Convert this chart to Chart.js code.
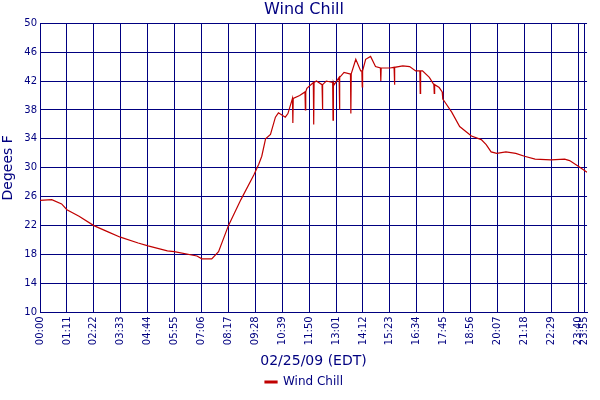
<!DOCTYPE html>
<html><head><script src="https://cdn.jsdelivr.net/npm/chart.js"></script>
<style>body{margin:0;background:#fff}</style></head>
<body><div style="width:600px;height:400px"><canvas id="c"></canvas></div>
<script>
const minutes=[0,31,57,71,103,142,181,212,259,285,336,354,414,427,453,471,497,530,564,577,585,595,608,621,629,647,654,666,667,668,685,699,700,701,704,721,722,723,729,744,745,746,755,772,773,774,776,789,790,791,802,817,819,820,821,833,846,849,850,851,859,872,885,898,899,900,901,923,934,935,936,957,975,991,1002,1003,1004,1009,1027,1039,1040,1041,1053,1061,1062,1063,1068,1086,1107,1138,1164,1177,1190,1205,1229,1255,1278,1306,1348,1384,1397,1420,1443];
const windChill=[25.5,25.6,25.0,24.2,23.3,22.0,21.1,20.4,19.6,19.2,18.5,18.4,17.8,17.4,17.4,18.4,22.0,25.6,29.0,30.5,31.6,34.0,34.6,37.0,37.6,37.0,37.5,39.6,36.2,39.6,40.0,40.5,38.0,40.5,41.0,41.8,36.0,41.8,42.0,41.5,38.0,41.5,42.0,41.8,36.6,41.8,41.5,42.5,38.0,42.5,43.2,43.0,43.0,37.5,43.0,45.0,43.4,43.4,41.2,43.4,45.0,45.4,44.0,43.8,42.0,43.8,43.8,43.8,43.9,41.5,43.9,44.1,44.0,43.4,43.4,40.3,43.4,43.4,42.5,41.5,40.3,41.5,41.1,40.5,40.0,39.5,39.1,37.7,35.7,34.4,33.9,33.2,32.2,32.0,32.2,32.0,31.6,31.2,31.1,31.2,31.0,30.2,29.4];
const tickMinutes=[0,71,142,213,284,355,426,497,568,639,710,781,852,923,994,1065,1136,1207,1278,1349,1420,1435];
const yTicks=[10,14,18,22,26,30,34,38,42,46,50];
const navy='#000080';
function lab(m){const h=Math.floor(m/60),mm=m%60;return String(h).padStart(2,'0')+':'+String(mm).padStart(2,'0');}
Chart.defaults.font.family='DejaVu Sans';
Chart.defaults.color=navy;
new Chart(document.getElementById('c'),{type:'line',
data:{datasets:[{label:'Wind Chill',data:minutes.map((m,i)=>({x:m,y:windChill[i]})),borderColor:'#c00000',backgroundColor:'#c00000',borderWidth:1.2,pointRadius:0,tension:0}]},
options:{animation:false,responsive:true,maintainAspectRatio:false,
layout:{padding:{right:-8,left:0,bottom:2}},
plugins:{title:{display:true,text:'Wind Chill',color:navy,font:{size:16,weight:'normal'},padding:{top:0,bottom:4}},
legend:{position:'bottom',labels:{boxWidth:12,boxHeight:2,color:navy,font:{size:12},padding:2}}},
scales:{x:{type:'linear',min:0,max:1443,afterBuildTicks:s=>{s.ticks=tickMinutes.map(v=>({value:v}));},
ticks:{callback:v=>lab(v),maxRotation:90,minRotation:90,autoSkip:false,font:{size:10},color:navy,padding:4},
grid:{color:navy,drawTicks:false},border:{color:navy},
title:{display:true,text:'02/25/09 (EDT)',color:navy,font:{size:14},padding:{top:4,bottom:4}}},
y:{min:10,max:50,afterFit:s=>{s.width=40;},afterBuildTicks:s=>{s.ticks=yTicks.map(v=>({value:v}));},
ticks:{font:{size:10},color:navy},grid:{color:navy,drawTicks:false},border:{color:navy},
title:{display:true,text:'Degees F',color:navy,font:{size:14},padding:0}}}}});
</script></body></html>
